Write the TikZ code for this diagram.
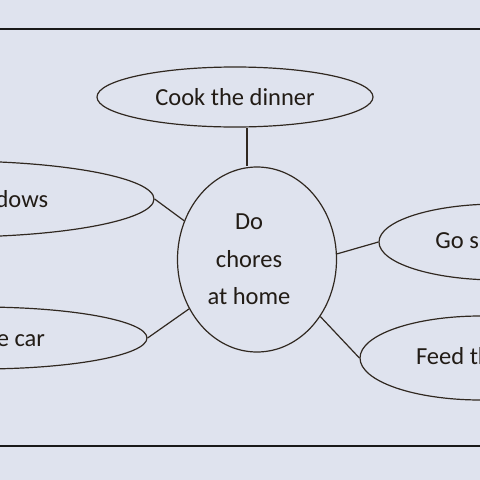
\documentclass[tikz,border=0pt]{standalone}
\usepackage{fontspec}
\setmainfont{Carlito}
\usepackage{tikz}
\usetikzlibrary{shapes.geometric}
\usetikzlibrary{positioning}
\definecolor{bgcol}{RGB}{223,227,238}
\definecolor{inkcol}{RGB}{48,40,32}
\definecolor{txtcol}{RGB}{34,28,22}
\tikzset{chore/.style = {draw = inkcol, ellipse, line width = 1.2pt, inner sep = 1pt,
                         text = txtcol, font = \fontsize{24.5}{37.5}\selectfont}}
\tikzset{link/.style = {draw = inkcol, line width = 1.2pt}}
\tikzset{frame/.style = {draw = black!90, line width = 1.4pt}}

\begin{document}
\begin{tikzpicture}[x = 1pt, y = -1pt]
    \useasboundingbox (0, 0) rectangle (480, 480);
    \fill [bgcol] (0, 0) rectangle (480, 480);
    \clip (0, 0) rectangle (480, 480);

    \draw [frame] (0, 29) -- (480, 29);
    \draw [frame] (0, 446) -- (480, 446);

    \node [chore, minimum width = 159, minimum height = 185] (home) at (257, 259.5) {};
    \node [text = txtcol, align = center, font = \fontsize{24.5}{37.5}\selectfont]
        (hometxt) at ([xshift = -8pt] home) {Do\\chores\\at home};

    \node [chore, minimum width = 276, minimum height = 60] (cook) at (235, 97) {Cook the dinner};
    \node [chore, minimum width = 400, minimum height = 76] (wind) at (-46, 199) {Clean the windows};
    \node [chore, minimum width = 334, minimum height = 62] (car) at (-20, 338) {Wash the car};
    \node [chore, minimum width = 238, minimum height = 76] (shop) at (498, 242) {Go shopping};
    \node [chore, minimum width = 242, minimum height = 84] (feed) at (481, 358) {Feed the dog};

    \draw [link] ([xshift = 12pt] cook.south) -- ([xshift = 12pt] cook.south |- home.north);
    \draw [link] (wind.east) -- (home.152);
    \draw [link] (car.east) -- (home.216);
    \draw [link] (home.4) -- (shop.west);
    \draw [link] (home.-42) -- (feed.west);
  \end{tikzpicture}
\end{document}
